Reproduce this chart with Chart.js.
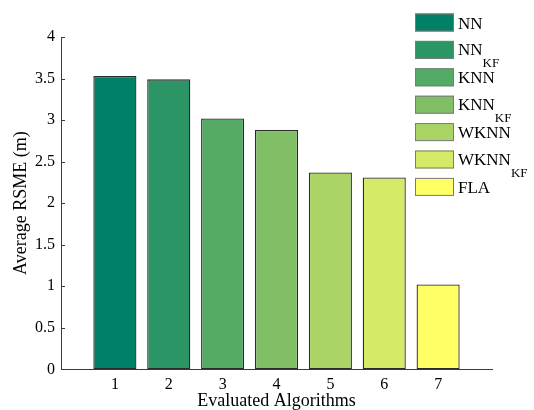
<!DOCTYPE html>
<html>
<head>
<meta charset="utf-8">
<script src="https://cdn.jsdelivr.net/npm/chart.js@4/dist/chart.umd.min.js"></script>
<style>
  html, body { margin: 0; padding: 0; background: #ffffff; }
  #wrap { width: 534px; height: 410px; position: relative; }
</style>
</head>
<body>
<div id="wrap"><canvas id="c" width="534" height="410"></canvas></div>
<script>
// Algorithm positions along the x axis and their average RMSE (m)
const positions = [1, 2, 3, 4, 5, 6, 7];
const algorithms = ['NN', 'NN_KF', 'KNN', 'KNN_KF', 'WKNN', 'WKNN_KF', 'FLA'];
const rmse = [3.53, 3.49, 3.02, 2.88, 2.37, 2.31, 1.02];
const barColors = ['#008066', '#2b9566', '#55aa66', '#80bf66', '#aad566', '#d5ea66', '#ffff66'];
const yTickValues = [0, 0.5, 1, 1.5, 2, 2.5, 3, 3.5, 4];
const xTickValues = [1, 2, 3, 4, 5, 6, 7];

const FONT = '"Liberation Serif", "Times New Roman", serif';
const AXIS_COLOR = '#3a3a3a';

// One dataset per algorithm so each bar carries its own legend entry
const datasets = algorithms.map((name, i) => ({
  label: name,
  data: [{ x: positions[i], y: rmse[i] }],
  backgroundColor: barColors[i],
  borderColor: '#2b2b2b',
  borderWidth: 1.3,
  borderSkipped: false,
  barPercentage: 0.8,
  categoryPercentage: 1.0,
  grouped: false
}));

// Inward-pointing tick marks on both axes
const innerTicks = {
  id: 'innerTicks',
  beforeDatasetsDraw(chart) {
    const { ctx, chartArea, scales } = chart;
    ctx.save();
    ctx.strokeStyle = AXIS_COLOR;
    ctx.lineWidth = 1;
    ctx.beginPath();
    yTickValues.forEach(v => {
      const y = Math.round(scales.y.getPixelForValue(v)) + 0.5;
      ctx.moveTo(chartArea.left, y);
      ctx.lineTo(chartArea.left + 4, y);
    });
    xTickValues.forEach(v => {
      const x = Math.round(scales.x.getPixelForValue(v)) + 0.5;
      ctx.moveTo(x, chartArea.bottom);
      ctx.lineTo(x, chartArea.bottom - 4);
    });
    ctx.stroke();
    ctx.restore();
  }
};

// Legend with subscripted labels (text after "_" is drawn as a subscript)
const subLegend = {
  id: 'subLegend',
  afterDraw(chart) {
    const { ctx } = chart;
    const boxX = 415, boxW = 39, boxH = 18, top0 = 13.5, step = 27.4;
    ctx.save();
    chart.data.datasets.forEach((ds, i) => {
      const top = top0 + i * step;
      ctx.fillStyle = ds.backgroundColor;
      ctx.fillRect(boxX, top, boxW, boxH);
      ctx.strokeStyle = '#7a7a7a';
      ctx.lineWidth = 1;
      ctx.strokeRect(boxX + 0.5, top + 0.5, boxW - 1, boxH - 1);
      const [main, sub] = ds.label.split('_');
      const baseY = top + boxH / 2 + 6;
      const tx = boxX + boxW + 4;
      ctx.fillStyle = '#000000';
      ctx.textBaseline = 'alphabetic';
      ctx.textAlign = 'left';
      ctx.font = '17px ' + FONT;
      ctx.fillText(main, tx, sub ? baseY - 0.5 : baseY);
      if (sub) {
        const w = ctx.measureText(main).width;
        ctx.font = '13px ' + FONT;
        ctx.fillText(sub, tx + w, baseY + 11);
      }
    });
    ctx.restore();
  }
};

new Chart(document.getElementById('c'), {
  type: 'bar',
  data: { datasets },
  plugins: [innerTicks, subLegend],
  options: {
    responsive: false,
    animation: false,
    devicePixelRatio: 1,
    layout: { padding: { left: 0, right: 42, top: 37, bottom: 0 } },
    plugins: {
      legend: { display: false },
      tooltip: { enabled: false }
    },
    scales: {
      x: {
        type: 'linear',
        offset: false,
        min: 0,
        max: 8,
        afterBuildTicks(scale) {
          scale.ticks = xTickValues.map(v => ({ value: v }));
        },
        afterFit(scale) { scale.height = 40.7; },
        grid: { display: false, drawTicks: false },
        border: { display: true, color: AXIS_COLOR, width: 1 },
        ticks: {
          color: '#000000',
          font: { family: FONT, size: 16 },
          padding: 6,
          maxRotation: 0,
          callback: v => String(v)
        },
        title: {
          display: true,
          text: 'Evaluated Algorithms',
          color: '#000000',
          font: { family: FONT, size: 18, lineHeight: 1 },
          padding: { top: 0, bottom: 0 }
        }
      },
      y: {
        min: 0,
        max: 4,
        afterBuildTicks(scale) {
          scale.ticks = yTickValues.map(v => ({ value: v }));
        },
        afterFit(scale) { scale.width = 61; },
        grid: { display: false, drawTicks: false },
        border: { display: true, color: AXIS_COLOR, width: 1 },
        ticks: {
          color: '#000000',
          font: { family: FONT, size: 16 },
          padding: 6,
          callback: v => String(v)
        },
        title: {
          display: true,
          text: 'Average RSME (m)',
          color: '#000000',
          font: { family: FONT, size: 18, lineHeight: 1 },
          padding: { top: 12, bottom: 0 }
        }
      }
    }
  }
});
</script>
</body>
</html>
